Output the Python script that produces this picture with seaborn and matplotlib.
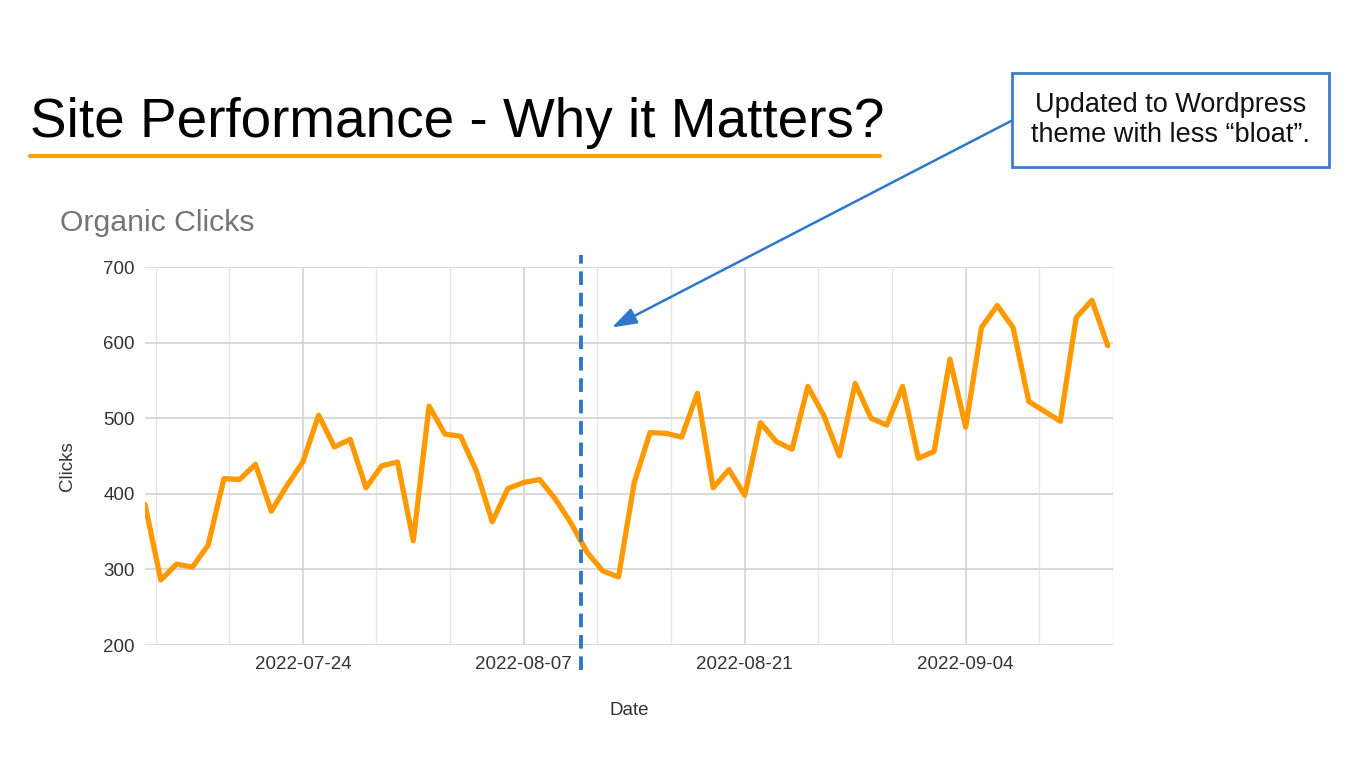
import pandas as pd
import matplotlib.pyplot as plt
import matplotlib.dates as mdates
import seaborn as sns
from matplotlib.lines import Line2D

# === 数据 ===
dates = pd.date_range("2022-07-14", "2022-09-13", freq="D")
clicks = [386, 286, 307, 303, 332, 420, 419, 439, 377, 411, 442, 504, 462, 472, 408, 437, 442, 338,
          516, 479, 476, 430, 363, 407, 415, 419, 393, 361, 323, 298, 290, 415, 481, 480, 475, 533,
          408, 432, 398, 494, 469, 459, 542, 504, 450, 546, 500, 491, 542,
          447, 456, 578, 488, 620, 649, 620, 522, 509, 496, 633, 656, 596]
tick_dates = pd.to_datetime(["2022-07-24", "2022-08-07", "2022-08-21", "2022-09-04"])
update_date = pd.Timestamp("2022-08-10 15:00")
arrow_target = (pd.Timestamp("2022-08-12 14:00"), 620)
note = "Updated to Wordpress\ntheme with less \u201cbloat\u201d."

df = pd.DataFrame({"Date": dates, "Clicks": clicks})

sns.set_theme(style="whitegrid")
plt.rcParams['font.family'] = ['Liberation Sans', 'DejaVu Sans']

orange = "#FF9900"
blue = "#2E78CC"
txt = "#333333"

fig = plt.figure(figsize=(13.66, 7.68), dpi=100)
ax = fig.add_axes([145 / 1366, 1 - 645 / 768, 968 / 1366, 378 / 768])

sns.lineplot(data=df, x="Date", y="Clicks", ax=ax, color=orange, linewidth=3.8)

ax.set_xlim(dates[0], dates[-1])
ax.set_ylim(200, 700)
ax.set_yticks([200, 300, 400, 500, 600, 700])

major = mdates.date2num(tick_dates)
step = 14 / 3
minor = [m + d for m in major for d in (-2 * step, -step)] + [major[-1] + step, major[-1] + 2 * step]
ax.set_xticks(tick_dates)
ax.xaxis.set_major_formatter(mdates.DateFormatter("%Y-%m-%d"))
ax.set_xticks(minor, minor=True)

ax.grid(True, which="major", color="#d0d0d0", linewidth=1.1)
ax.grid(True, which="minor", axis="x", color="#e6e6e6", linewidth=1.0)
for sp in ax.spines.values():
    sp.set_visible(False)
ax.tick_params(axis="both", which="both", length=0, labelsize=13.5, colors=txt)
ax.tick_params(axis="y", length=3, width=1.1, color="#d0d0d0", pad=4.5)
ax.tick_params(axis="x", pad=8)

ax.set_xlabel("Date", fontsize=13.5, color=txt)
ax.set_ylabel("Clicks", fontsize=13.5, color=txt)
ax.yaxis.set_label_coords(-0.071, 0.473)
ax.xaxis.set_label_coords(0.5, -0.151)

# 主题更新的虚线
ax.vlines(update_date, 167, 716, colors=blue, linestyles=(0, (3.5, 2.0)), linewidth=2.8, clip_on=False)

# 注释框和箭头
fig.text(1170.5 / 1366, 1 - 120 / 768, note, ha="center", va="center", fontsize=19.5,
         color="#111111", linespacing=1.25,
         bbox=dict(boxstyle="square,pad=0.7", facecolor="white", edgecolor="#3A7DD0", linewidth=2))
ax.annotate("", xy=arrow_target, xycoords="data",
            xytext=(1013 / 1366, 1 - 120 / 768), textcoords="figure fraction",
            arrowprops=dict(arrowstyle="-|>,head_length=0.75,head_width=0.25", color=blue, linewidth=1.8,
                            mutation_scale=20, shrinkA=0, shrinkB=0))

# 标题
fig.text(30 / 1366, 1 - 137 / 768, "Site Performance - Why it Matters?", fontsize=39.5,
         ha="left", va="baseline", color="#000000")
fig.add_artist(Line2D([30 / 1366, 880 / 1366], [1 - 156 / 768] * 2, color="#F5A300", linewidth=3))
fig.text(60 / 1366, 1 - 231 / 768, "Organic Clicks", fontsize=21.8, ha="left", va="baseline", color="#757575")

fig.savefig("out.png", dpi=100, facecolor="white")
